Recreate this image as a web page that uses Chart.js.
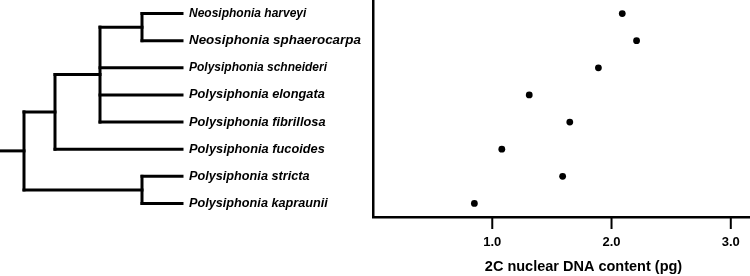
<!DOCTYPE html>
<html>
<head>
<meta charset="utf-8">
<script src="https://cdn.jsdelivr.net/npm/chart.js@4"></script>
<style>
  html, body { margin: 0; padding: 0; background: #fff; overflow: hidden; }
  #wrap { width: 750px; height: 276px; overflow: hidden; }
</style>
</head>
<body>
<div id="wrap"><canvas id="dnaChart" width="794" height="276"></canvas></div>
<script>
// ====== DATA ======
const species = [
  "Neosiphonia harveyi",
  "Neosiphonia sphaerocarpa",
  "Polysiphonia schneideri",
  "Polysiphonia elongata",
  "Polysiphonia fibrillosa",
  "Polysiphonia fucoides",
  "Polysiphonia stricta",
  "Polysiphonia kapraunii"
];
const dnaContent = [2.09, 2.21, 1.89, 1.31, 1.65, 1.08, 1.59, 0.85];
const xTicks = [1, 2, 3];
const xTitle = "2C nuclear DNA content (pg)";
// tree topology, leaves are indexes into species
const tree = [[[[0, 1], 2, 3, 4], 5], [6, 7]];

// ====== STYLE ======
const FONT = "'Liberation Sans', Arial, Helvetica, sans-serif";
const labelSizes = [12, 13.4, 12, 12.8, 12.8, 12.8, 12.7, 12.7];
const xByHeight = [182, 142, 100, 55, 24]; // tree node x, by node height
const labelLeft = 189;
const plotLeft = 373;
const tickLen = 12;

// ====== TREE + TICK MARKS PLUGIN ======
const treePlugin = {
  id: "tree",
  afterDraw(chart) {
    const ctx = chart.ctx;
    const yScale = chart.scales.y;
    const xScale = chart.scales.x;
    ctx.save();
    ctx.strokeStyle = "#000";

    function line(x1, y1, x2, y2) {
      ctx.beginPath();
      ctx.moveTo(x1, y1);
      ctx.lineTo(x2, y2);
      ctx.stroke();
    }

    // x axis tick marks, below the axis line
    ctx.lineWidth = 2;
    ctx.lineCap = "butt";
    xTicks.forEach(v => {
      const px = xScale.getPixelForValue(v);
      line(px, xScale.top, px, xScale.top + tickLen);
    });

    // tree
    ctx.lineWidth = 3;
    ctx.lineCap = "square";

    function drawNode(node) {
      if (typeof node === "number") {
        return { y: yScale.getPixelForValue(node), h: 0 };
      }
      const kids = node.map(drawNode);
      const h = Math.max(...kids.map(k => k.h)) + 1;
      const x = xByHeight[h];
      const yTop = kids[0].y;
      const yBot = kids[kids.length - 1].y;
      line(x, yTop, x, yBot);
      kids.forEach(k => line(x, k.y, xByHeight[k.h], k.y));
      return { y: (yTop + yBot) / 2, h };
    }

    const root = drawNode(tree);
    line(0, root.y, xByHeight[root.h], root.y);
    ctx.restore();
  }
};

// ====== CHART ======
const ctx = document.getElementById("dnaChart").getContext("2d");
new Chart(ctx, {
  type: "scatter",
  data: {
    datasets: [{
      data: species.map((s, i) => ({ x: dnaContent[i], y: s })),
      backgroundColor: "#000",
      borderWidth: 0,
      pointRadius: 3.4
    }]
  },
  options: {
    responsive: false,
    animation: false,
    layout: { padding: { left: labelLeft, top: 0, right: 0, bottom: 0 }, autoPadding: false },
    plugins: { legend: { display: false }, tooltip: { enabled: false } },
    scales: {
      x: {
        type: "linear",
        min: 0,
        max: 3.53,
        afterBuildTicks: scale => { scale.ticks = xTicks.map(v => ({ value: v })); },
        grid: { display: false, drawTicks: true, tickLength: tickLen },
        border: { display: true, color: "#000", width: 2.5 },
        ticks: {
          color: "#000",
          padding: 6,
          font: { family: FONT, size: 13, weight: "bold" },
          callback: v => Number(v).toFixed(1)
        },
        title: {
          display: true,
          text: xTitle,
          color: "#000",
          padding: { top: 7, bottom: 0 },
          font: { family: FONT, size: 14.5, weight: "bold" }
        },
        afterFit: scale => {
          scale.height = 59;
          scale.paddingLeft = 0;
          scale.paddingRight = 0;
        }
      },
      y: {
        type: "category",
        labels: species,
        offset: true,
        grid: { display: false, drawTicks: false },
        border: { display: true, color: "#000", width: 2.5 },
        ticks: {
          color: "#000",
          crossAlign: "far",
          padding: 12,
          font: c => ({ family: FONT, size: labelSizes[c.index] || 12.8, weight: "bold", style: "italic" })
        },
        afterFit: scale => {
          scale.width = plotLeft - labelLeft;
          scale.paddingTop = 0;
          scale.paddingBottom = 0;
        }
      }
    }
  },
  plugins: [treePlugin]
});
</script>
</body>
</html>
